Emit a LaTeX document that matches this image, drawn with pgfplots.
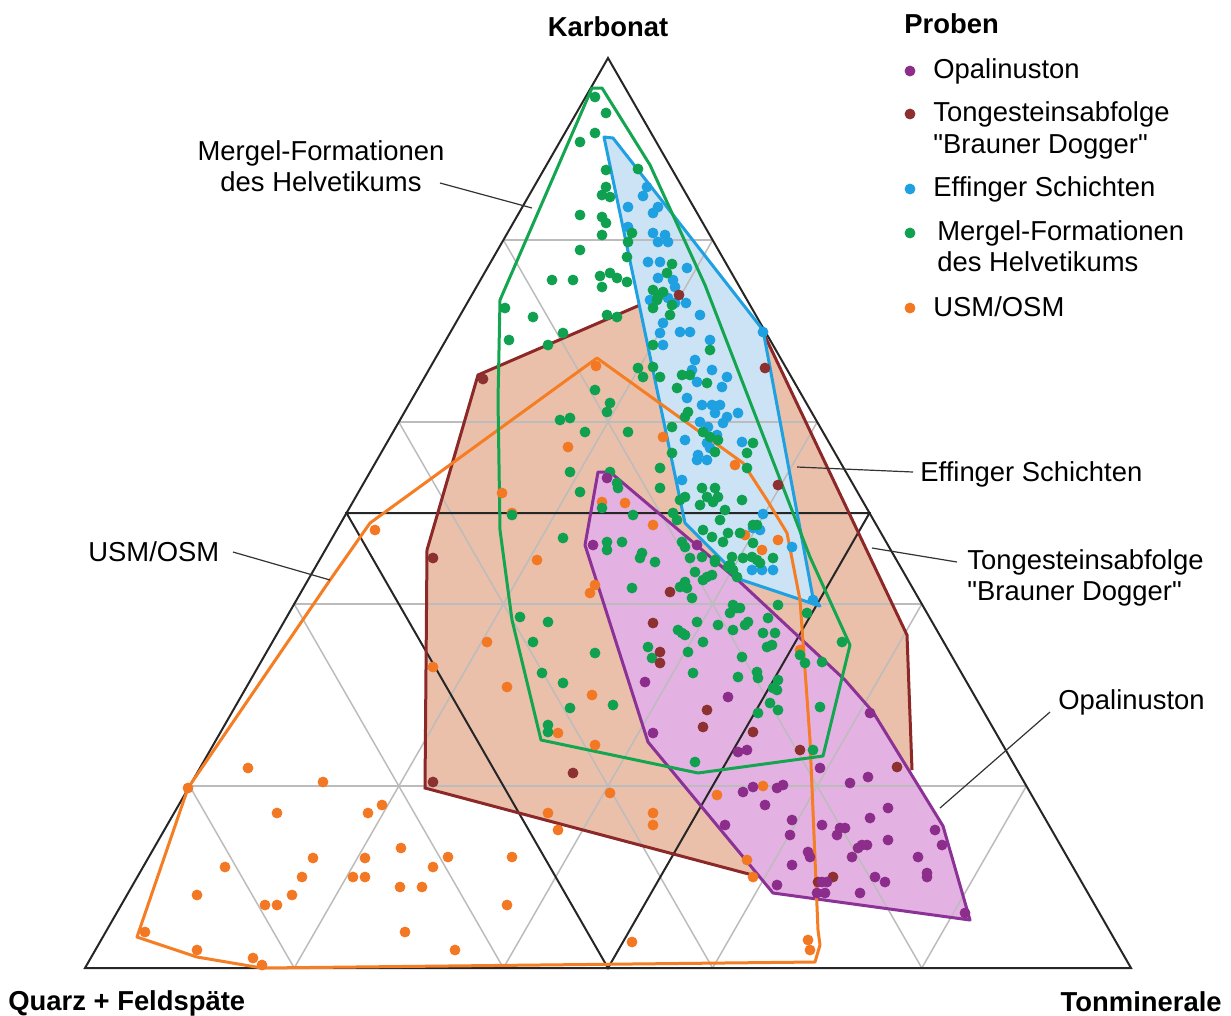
\documentclass[border=0pt]{standalone}
\usepackage{pgfplots}
\pgfplotsset{compat=1.18}
\usepackage{fontspec}
\setmainfont{Liberation Sans}[Ligatures=TeXOff]

\definecolor{opafill}{RGB}{228,178,226}
\definecolor{opaline}{RGB}{140,50,150}
\definecolor{opapt}{RGB}{140,45,140}
\definecolor{dogfill}{RGB}{234,192,170}
\definecolor{dogline}{RGB}{140,40,40}
\definecolor{dogpt}{RGB}{140,48,48}
\definecolor{effill}{RGB}{204,227,245}
\definecolor{efline}{RGB}{30,160,225}
\definecolor{mergline}{RGB}{20,165,80}
\definecolor{mergpt}{RGB}{15,160,80}
\definecolor{usmline}{RGB}{245,125,35}
\definecolor{usmpt}{RGB}{243,120,35}
\definecolor{gridgrey}{RGB}{188,188,188}

\newcommand\lab{\fontsize{13.7}{15.5}\selectfont}

\begin{document}
\begin{tikzpicture}
\begin{axis}[
    width=615.5pt, height=507.5pt, scale only axis,
    xmin=0, xmax=1231, ymin=0, ymax=1015, y dir=reverse,
    hide axis, clip=false,
    pts/.style={only marks, mark=*, mark size=2.5pt},
]
% page frame
\addplot[draw=none, forget plot] coordinates {(0,0) (1231,1015)};

% fields
\addplot[fill=dogfill, draw=none] coordinates {(425,788) (427,550) (478,375) (640,305) (763,332) (907,635) (912,770) (760,877)} -- cycle;
\addplot[fill=opafill, draw=none] coordinates {(598,472) (610,472) (740,582) (845,680) (873,712) (943,826) (970,920) (773,893) (648,742) (585,545)} -- cycle;
\addplot[fill=effill, draw=none] coordinates {(604,137) (613,138) (763,330) (813,598) (820,606) (742,580) (685,523)} -- cycle;

% grid 20 %
\addplot[gridgrey, line width=0.75pt] coordinates {(189.6,786) (1026.4,786)};
\addplot[gridgrey, line width=0.75pt] coordinates {(294.2,604) (921.8,604)};
\addplot[gridgrey, line width=0.75pt] coordinates {(398.8,422) (817.2,422)};
\addplot[gridgrey, line width=0.75pt] coordinates {(503.4,240) (712.6,240)};
\addplot[gridgrey, line width=0.75pt] coordinates {(503.4,240) (921.8,968)};
\addplot[gridgrey, line width=0.75pt] coordinates {(398.8,422) (712.6,968)};
\addplot[gridgrey, line width=0.75pt] coordinates {(294.2,604) (503.4,968)};
\addplot[gridgrey, line width=0.75pt] coordinates {(189.6,786) (294.2,968)};
\addplot[gridgrey, line width=0.75pt] coordinates {(712.6,240) (294.2,968)};
\addplot[gridgrey, line width=0.75pt] coordinates {(817.2,422) (503.4,968)};
\addplot[gridgrey, line width=0.75pt] coordinates {(921.8,604) (712.6,968)};
\addplot[gridgrey, line width=0.75pt] coordinates {(1026.4,786) (921.8,968)};
% 50 % lines and frame
\addplot[black!85, line width=1pt] coordinates {(346.5,513) (869.5,513) (608,968)} -- cycle;
\addplot[black!85, line width=1pt, line join=miter] coordinates {(85,968) (1131,968) (608,58)} -- cycle;

% outlines
\addplot[dogline, line width=1.5pt] coordinates {(640,305) (478,375) (427,550) (425,788) (760,877)};
\addplot[dogline, line width=1.5pt] coordinates {(912,770) (907,635) (763,332)};
\addplot[opaline, line width=1.5pt, line join=round] coordinates {(598,472) (610,472) (740,582) (845,680) (873,712) (943,826) (970,920) (773,893) (648,742) (585,545)} -- cycle;
\addplot[efline, line width=1.5pt, line join=round] coordinates {(604,137) (613,138) (763,330) (813,598) (820,606) (742,580) (685,523)} -- cycle;
\addplot[usmline, line width=1.5pt, line join=round] coordinates {(597,358) (743,463) (767,500) (787,533) (800,600) (810,740) (818,930) (820,945) (815,962) (262,968) (197,957) (137,937) (188,788) (330,580) (370,523)} -- cycle;
\addplot[mergline, line width=1.5pt, line join=round] coordinates {(592,88) (602,88) (650,165) (705,285) (810,557) (850,645) (823,756) (698,773) (541,740) (512,620) (500,530) (498,400) (500,300)} -- cycle;

% samples
\addplot[pts, color=usmpt] coordinates {
(596,366) (568,447) (663,437) (735,465) (502,493) (512,513) (602,502) (625,503)
(653,525) (745,535) (778,540) (762,550) (375,530) (537,560) (595,585) (590,593)
(800,650) (487,642) (433,667) (507,687) (592,695) (558,733) (595,745) (610,793)
(548,813) (558,830) (653,813) (653,825) (401,848) (448,857) (512,857) (763,786)
(717,795) (747,860) (753,877) (248,768) (323,782) (277,813) (382,805) (368,813)
(433,867) (313,858) (365,858) (225,867) (302,877) (353,877) (365,877) (400,887)
(422,887) (197,895) (292,895) (265,905) (277,905) (507,905) (145,932) (405,932)
(197,950) (253,958) (455,950) (262,965) (188,788) (632,942) (808,940) (810,950)
};
\addplot[pts, color=efline] coordinates {
(647,187) (643,196) (658,207) (628,207) (653,213) (628,227) (653,233) (665,235)
(658,242) (668,242) (648,262) (660,262) (687,268) (658,278) (673,280) (675,287)
(650,300) (653,303) (668,298) (675,303) (686,303) (700,315) (663,323) (680,332)
(690,332) (660,333) (663,345) (710,340) (763,332) (695,360) (692,370) (712,370)
(727,377) (722,387) (697,382) (687,398) (702,405) (712,405) (720,405) (715,413)
(738,413) (727,417) (723,423) (700,422) (708,427) (685,440) (717,435) (707,443)
(710,448) (742,442) (698,455) (697,460) (707,460) (682,480) (763,514) (753,528)
(760,530) (792,547) (752,570) (762,570) (773,570) (813,600)
};
\addplot[pts, color=mergpt] coordinates {
(595,97) (606,113) (595,133) (580,142) (606,170) (638,169) (606,187) (602,195)
(610,197) (580,215) (602,217) (606,223) (602,235) (632,233) (628,242) (580,250)
(627,257) (672,264) (552,280) (573,280) (600,276) (610,273) (617,278) (627,282)
(602,287) (667,273) (653,290) (663,292) (658,297)
(657,300) (653,308) (672,305) (670,315) (607,315) (617,317) (653,345) (710,350)
(638,368) (643,377) (653,367) (660,377) (682,375) (690,375) (677,388) (707,383)
(610,403) (607,412) (688,412) (685,417) (672,427) (628,432) (703,432) (710,437)
(718,440) (753,443) (747,453) (715,452) (672,453) (660,468) (747,468) (660,488)
(702,488) (715,488) (707,497) (713,502) (718,497) (680,500) (685,497) (700,505)
(742,500) (725,510) (633,515) (673,513)
(595,390) (570,418) (560,420) (585,432) (570,472) (610,472) (617,483) (618,488)
(580,492) (602,508) (505,308) (533,317) (509,340) (548,345) (563,333) (512,515)
(677,520) (720,520) (703,530) (728,533) (740,533) (753,525) (757,525) (712,537)
(723,542) (563,538) (607,542) (607,550) (622,542) (682,542) (685,547) (753,543)
(702,557) (690,558) (715,560) (743,558) (752,557) (757,560) (760,563) (773,558)
(732,557) (642,553) (640,558) (655,562) (730,565) (733,570) (737,577) (695,572)
(707,577) (703,580) (712,575) (685,582) (680,587) (687,588) (692,598) (632,588)
(778,605) (807,613) (733,605) (737,608) (740,608) (730,613) (768,618) (697,622)
(718,625) (745,625) (748,622) (678,630) (682,633) (685,635) (733,630) (763,633)
(775,633) (703,642) (767,647) (772,645) (648,647) (688,652) (595,653) (742,657)
(800,655) (805,663) (652,658) (757,672) (758,678) (778,680) (777,690) (738,677)
(693,673) (822,662) (563,683) (770,703) (613,705) (570,708) (842,642) (715,562)
(728,567) (778,710) (758,713) (820,707) (773,688) (813,750) (695,762)
(520,617) (548,622) (533,642) (542,673) (548,725) (548,732)
};
\addplot[pts, color=dogpt] coordinates {
(679,295) (765,368) (778,485) (483,379) (433,558) (433,782) (670,592) (653,623)
(660,652) (660,663) (707,710) (703,727) (753,732) (800,750) (897,767) (833,877)
(818,882) (573,773)
};
\addplot[pts, color=opapt] coordinates {
(607,478) (593,545) (697,545) (645,682) (728,697) (653,733) (870,713) (738,752)
(747,750) (820,768) (850,783) (868,777) (743,792) (753,787) (777,788) (783,785)
(765,805) (888,808) (870,818) (792,820) (822,825) (725,825) (840,828) (845,828)
(837,835) (935,830) (790,835) (888,840) (942,845) (862,845) (867,845) (858,848)
(808,852) (810,857) (852,857) (918,857) (792,865) (927,873) (927,877) (875,877)
(885,882) (777,885) (822,882) (827,882) (825,893) (817,893) (860,893) (965,913)
};

% legend marks
\addplot[pts, color=opapt] coordinates {(910,71)};
\addplot[pts, color=dogpt] coordinates {(910,114)};
\addplot[pts, color=efline] coordinates {(910,189)};
\addplot[pts, color=mergpt] coordinates {(910,233)};
\addplot[pts, color=usmpt] coordinates {(910,308)};

% leader lines
\addplot[black!80, line width=0.6pt] coordinates {(440,183) (532,208)};
\addplot[black!80, line width=0.6pt] coordinates {(797,467) (913,472)};
\addplot[black!80, line width=0.6pt] coordinates {(872,548) (957,562)};
\addplot[black!80, line width=0.6pt] coordinates {(940,808) (1050,712)};
\addplot[black!80, line width=0.6pt] coordinates {(233,552) (330,580)};

% labels
\node[anchor=base] at (axis cs:608,36) {\lab\bfseries Karbonat};
\node[anchor=base west, inner sep=0pt] at (axis cs:8,1010) {\lab\bfseries Quarz + Feldspäte};
\node[anchor=base east, inner sep=0pt] at (axis cs:1222,1011) {\lab\bfseries Tonminerale};
\node[anchor=base west, inner sep=0pt] at (axis cs:904,33) {\lab\bfseries Proben};
\node[anchor=base west, inner sep=0pt] at (axis cs:933,78) {\lab Opalinuston};
\node[anchor=base west, inner sep=0pt] at (axis cs:933,121) {\lab Tongesteinsabfolge};
\node[anchor=base west, inner sep=0pt] at (axis cs:933,153) {\lab "Brauner Dogger"};
\node[anchor=base west, inner sep=0pt] at (axis cs:933,196) {\lab Effinger Schichten};
\node[anchor=base west, inner sep=0pt] at (axis cs:937,240) {\lab Mergel-Formationen};
\node[anchor=base west, inner sep=0pt] at (axis cs:937,271) {\lab des Helvetikums};
\node[anchor=base west, inner sep=0pt] at (axis cs:933,316) {\lab USM/OSM};

\node[anchor=base, inner sep=0pt] at (axis cs:321,160) {\lab Mergel-Formationen};
\node[anchor=base, inner sep=0pt] at (axis cs:321,191) {\lab des Helvetikums};
\node[anchor=base west, inner sep=0pt] at (axis cs:920,481) {\lab Effinger Schichten};
\node[anchor=base west, inner sep=0pt] at (axis cs:967,569) {\lab Tongesteinsabfolge};
\node[anchor=base west, inner sep=0pt] at (axis cs:967,600) {\lab "Brauner Dogger"};
\node[anchor=base west, inner sep=0pt] at (axis cs:1058,709) {\lab Opalinuston};
\node[anchor=base west, inner sep=0pt] at (axis cs:88,561) {\lab USM/OSM};
\end{axis}
\end{tikzpicture}
\end{document}
